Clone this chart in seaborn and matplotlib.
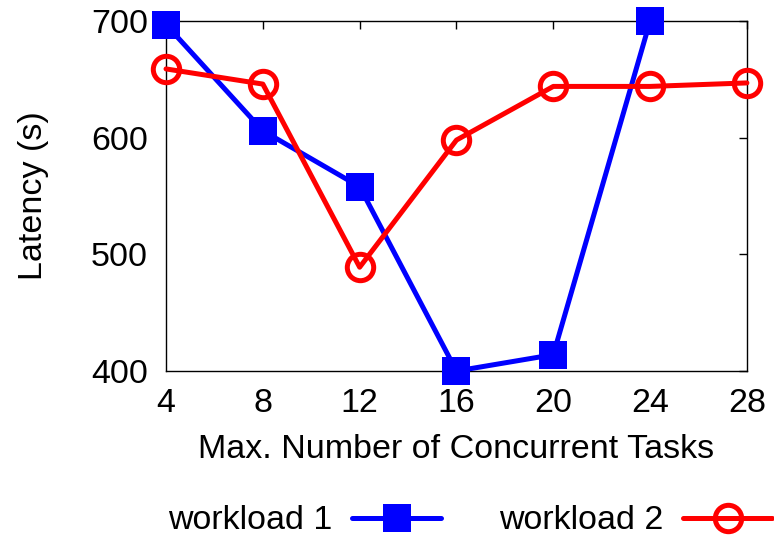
import matplotlib
matplotlib.use("Agg")
import matplotlib.pyplot as plt
import seaborn as sns
import pandas as pd

sns.set_style("white")
plt.rcParams["font.family"] = ["Liberation Sans", "DejaVu Sans"]
plt.rcParams["text.color"] = "black"
plt.rcParams["axes.labelcolor"] = "black"

tasks_w1 = [4, 8, 12, 16, 20, 24]
latency_w1 = [697, 606, 558, 400, 414, 700]
tasks_w2 = [4, 8, 12, 16, 20, 24, 28]
latency_w2 = [659, 646, 489, 598, 644, 644, 647]
x_ticks = [4, 8, 12, 16, 20, 24, 28]
y_ticks = [400, 500, 600, 700]

df1 = pd.DataFrame({"tasks": tasks_w1, "latency": latency_w1})
df2 = pd.DataFrame({"tasks": tasks_w2, "latency": latency_w2})

FS = 24.5

fig = plt.figure(figsize=(7.74, 5.41), dpi=100)
ax = fig.add_axes([0.2145, 0.3142, 0.7505, 0.6468])

sns.lineplot(data=df1, x="tasks", y="latency", ax=ax, color="#0000ff",
             linewidth=3.6, marker="s", markersize=20, markeredgewidth=0,
             label="workload 1", clip_on=False, zorder=3)
sns.lineplot(data=df2, x="tasks", y="latency", ax=ax, color="#ff0000",
             linewidth=3.6, marker="o", markersize=19, markerfacecolor="none",
             markeredgecolor="#ff0000", markeredgewidth=3.6,
             label="workload 2", clip_on=False, zorder=4)

ax.set_xlim(4, 28)
ax.set_ylim(400, 700)
ax.set_xticks(x_ticks)
ax.set_yticks(y_ticks)
ax.tick_params(axis="both", which="both", direction="in", length=6, width=1,
               top=True, right=True, labelsize=FS, colors="black")
ax.tick_params(axis="x", pad=12)
ax.tick_params(axis="y", pad=13)
for s in ax.spines.values():
    s.set_linewidth(1)
    s.set_color("black")

ax.set_xlabel("Max. Number of Concurrent Tasks", fontsize=FS, labelpad=11)
ax.set_ylabel("Latency (s)", fontsize=FS, labelpad=30)

leg = ax.legend(loc="center", ncol=2, frameon=False, markerfirst=False, fontsize=FS,
                handlelength=2.6, handletextpad=0.6, columnspacing=1.7)
leg.set_bbox_to_anchor((0.607, 0.037), transform=fig.transFigure)

fig.savefig("out.png", dpi=100)
